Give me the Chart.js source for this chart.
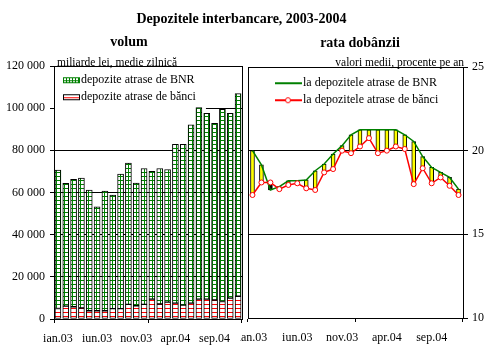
<!DOCTYPE html>
<html>
<head>
<meta charset="utf-8">
<script src="https://cdn.jsdelivr.net/npm/chart.js@4.4.1/dist/chart.umd.min.js"></script>
<style>
body { margin: 0; background: #fff; }
#pagina { position: relative; width: 495px; height: 354px; overflow: hidden; background: #fff;
  font-family: "Liberation Serif", "Times New Roman", serif; color: #000; }
#pagina canvas { position: absolute; top: 0; }
#graficVolum { left: 0; }
#graficRata { left: 240px; }
.text { position: absolute; white-space: nowrap; line-height: 14px; }
#titlu { left: 0; width: 483px; top: 12px; text-align: center; font-weight: bold; font-size: 14px; }
#titluVolum { left: 79px; width: 100px; top: 35px; text-align: center; font-weight: bold; font-size: 14px; }
#titluRata { left: 310px; width: 100px; top: 36px; text-align: center; font-weight: bold; font-size: 14px; }
#unitateVolum { left: 57px; top: 55px; font-size: 11.5px; }
#unitateRata { right: 31px; top: 55px; font-size: 11.5px; }
</style>
</head>
<body>
<div id="pagina">
  <canvas id="graficVolum" width="245" height="354"></canvas>
  <canvas id="graficRata" width="255" height="354"></canvas>
  <div class="text" id="titlu">Depozitele interbancare, 2003-2004</div>
  <div class="text" id="titluVolum">volum</div>
  <div class="text" id="titluRata">rata dobânzii</div>
  <div class="text" id="unitateVolum">miliarde lei, medie zilnică</div>
  <div class="text" id="unitateRata">valori medii, procente pe an</div>
</div>
<script>
// Datele (ian.03 - dec.04)
const luni = ["ian.03", "feb.03", "mar.03", "apr.03", "mai.03", "iun.03", "iul.03", "aug.03",
  "sep.03", "oct.03", "nov.03", "dec.03", "ian.04", "feb.04", "mar.04", "apr.04",
  "mai.04", "iun.04", "iul.04", "aug.04", "sep.04", "oct.04", "nov.04", "dec.04"];
const luniAfisate = ["ian.03", "iun.03", "nov.03", "apr.04", "sep.04"];

// volum, miliarde lei
const volumBanci = [5000, 6100, 5800, 5200, 3900, 3900, 3900, 4900, 4900, 6900, 6300, 6900,
  9400, 7100, 8000, 7500, 6600, 7500, 9400, 9400, 9000, 8300, 9900, 10800];
const volumBNR = [65600, 58200, 60400, 61600, 57300, 49300, 56800, 53900, 63800, 67000, 58200, 64500,
  60700, 64300, 62900, 75400, 76300, 84600, 90900, 88100, 83800, 91100, 87600, 96100];

// rata dobanzii, procente pe an
const rataBNR = [20.0, 19.15, 17.65, 17.85, 18.2, 18.2, 18.25, 18.8, 19.2, 19.8, 20.3, 20.95,
  21.25, 21.25, 21.25, 21.25, 21.25, 20.95, 20.55, 19.65, 19.0, 18.7, 18.4, 17.7];
const rataBanci = [17.35, 18.1, 18.1, 17.7, 17.95, 18.05, 17.75, 17.65, 18.7, 18.9, 20.0, 19.85,
  20.25, 20.75, 19.85, 20.0, 20.25, 20.1, 18.0, 18.95, 18.05, 18.4, 17.9, 17.35];

const VERDE = "#008000";
const ROSU = "#ff0000";

Chart.defaults.font.family = '"Liberation Serif", "Times New Roman", serif';
Chart.defaults.font.size = 12;
Chart.defaults.color = "#000";

const canvasVolum = document.querySelector("#graficVolum");
const canvasRata = document.querySelector("#graficRata");

// hasura pentru bare
function hasura(culoare, grila) {
    const c = document.createElement("canvas");
    c.width = 4; c.height = 4;
    const x = c.getContext("2d");
    x.fillStyle = "#fff"; x.fillRect(0, 0, 4, 4);
    x.fillStyle = culoare;
    x.fillRect(0, 0, 4, 1);
    if (grila) x.fillRect(0, 0, 1, 4);
    return canvasVolum.getContext("2d").createPattern(c, "repeat");
}

// mostrele din legenda stanga
function mostraVolum(grila) {
    const c = document.createElement("canvas");
    c.width = 26; c.height = 8;
    const x = c.getContext("2d");
    x.fillStyle = "#fff"; x.fillRect(9, 1, 17, 6);
    if (grila) {
        x.fillStyle = VERDE;
        for (let i = 12; i < 26; i += 3) x.fillRect(i, 1, 1, 6);
        x.fillRect(9, 4, 17, 1);
        x.strokeStyle = VERDE;
    } else {
        x.fillStyle = ROSU;
        x.fillRect(10, 4, 15, 1);
        x.strokeStyle = "#000";
    }
    x.lineWidth = 1;
    x.strokeRect(9.5, 1.5, 16, 5);
    return c;
}

// mostrele din legenda dreapta
function mostraRata(culoare, cerc) {
    const c = document.createElement("canvas");
    c.width = 54; c.height = 8;
    const x = c.getContext("2d");
    x.strokeStyle = culoare; x.lineWidth = 2;
    x.beginPath(); x.moveTo(27, 4); x.lineTo(54, 4); x.stroke();
    if (cerc) {
        x.lineWidth = 1;
        x.fillStyle = "#fff";
        x.beginPath(); x.arc(40, 4, 2.5, 0, Math.PI * 2); x.fill(); x.stroke();
    }
    return c;
}

function formatMii(v) {
    return String(v).replace(/\B(?=(\d{3})+(?!\d))/g, " ");
}

function liniiAn(ctx) {
    return (ctx.index === undefined || ctx.index % 12 === 0) ? "#000" : "rgba(0,0,0,0)";
}

// legenda pusa in interiorul zonei graficului
const legendaInGrafic = {
    id: "legendaInGrafic",
    afterLayout(chart) {
        const l = chart.legend, a = chart.chartArea;
        const h = l.bottom - l.top;
        l.top = a.top;
        l.bottom = a.top + h;
    }
};

const chenar = {
    id: "chenar",
    afterDatasetsDraw(chart) {
        const { ctx, chartArea: a } = chart;
        const x0 = Math.round(a.left) + 0.5, x1 = Math.round(a.right) + 0.5;
        const y0 = Math.round(a.top) + 0.5, y1 = Math.round(a.bottom) + 0.5;
        ctx.save();
        ctx.strokeStyle = "#000";
        ctx.lineWidth = 1;
        ctx.strokeRect(x0, y0, x1 - x0, y1 - y0);
        ctx.restore();
    }
};

const fundalLegenda = {
    id: "fundalLegenda",
    beforeDatasetsDraw(chart) {
        const cutii = chart.legend.legendHitBoxes;
        if (!cutii || !cutii.length) return;
        const a = chart.chartArea;
        const dreapta = Math.max(...cutii.map(b => b.left + b.width)) + 10;
        const jos = Math.max(...cutii.map(b => b.top + b.height)) + 8;
        const ctx = chart.ctx;
        ctx.save();
        ctx.fillStyle = "#fff";
        ctx.fillRect(a.left + 1, a.top + 1, dreapta - a.left - 1, jos - a.top - 1);
        ctx.restore();
        chart.legend.draw();
    }
};

const mostreVolum = [mostraVolum(false), mostraVolum(true)];
const mostreRata = [mostraRata(VERDE, false), mostraRata(ROSU, true)];

new Chart(canvasVolum, {
    type: "bar",
    data: {
        labels: luni,
        datasets: [
            {
                label: "depozite atrase de bănci",
                data: volumBanci,
                backgroundColor: hasura(ROSU, false),
                borderColor: "#000",
                borderWidth: 1,
                borderSkipped: false,
                barThickness: 6
            },
            {
                label: "depozite atrase de BNR",
                data: volumBNR,
                backgroundColor: hasura(VERDE, true),
                borderColor: "#000",
                borderWidth: 1,
                borderSkipped: false,
                barThickness: 6
            }
        ]
    },
    options: {
        responsive: false,
        animation: false,
        layout: { padding: { top: 66, right: 3, left: 0, bottom: 0 } },
        scales: {
            x: {
                stacked: true,
                offset: true,
                ticks: {
                    autoSkip: false, maxRotation: 0, padding: 9,
                    callback: (v, i) => luniAfisate.includes(luni[i]) ? luni[i] : ""
                },
                grid: { offset: true, drawOnChartArea: false, tickLength: 4, color: liniiAn },
                border: { color: "#000" },
                afterFit: s => { s.height = 35; s.paddingLeft = 0; s.paddingRight = 0; }
            },
            y: {
                stacked: true,
                min: 0,
                max: 120000,
                ticks: { stepSize: 20000, padding: 5, callback: v => formatMii(v) },
                grid: { color: "#000", tickLength: 4 },
                border: { color: "#000" },
                afterFit: s => { s.width = 54; }
            }
        },
        plugins: {
            tooltip: { enabled: false },
            legend: {
                position: "chartArea",
                align: "start",
                title: { display: true, text: "", font: { size: 1 }, padding: { top: 2, bottom: 0 } },
                labels: {
                    usePointStyle: true,
                    pointStyleWidth: 16,
                    padding: 5,
                    generateLabels: chart => Chart.defaults.plugins.legend.labels.generateLabels(chart)
                        .sort((a, b) => b.datasetIndex - a.datasetIndex)
                        .map(l => Object.assign(l, { pointStyle: mostreVolum[l.datasetIndex] }))
                }
            }
        }
    },
    plugins: [legendaInGrafic, fundalLegenda, chenar]
});

const diferente = rataBanci.map((v, i) => [v, rataBNR[i]]);

new Chart(canvasRata, {
    type: "bar",
    data: {
        labels: luni,
        datasets: [
            {
                type: "line",
                label: "la depozitele atrase de BNR",
                data: rataBNR,
                borderColor: VERDE,
                borderWidth: 1.5,
                pointRadius: 0,
                tension: 0,
                order: 1
            },
            {
                type: "line",
                label: "la depozitele atrase de bănci",
                data: rataBanci,
                borderColor: ROSU,
                borderWidth: 1.5,
                pointRadius: 2.5,
                pointBackgroundColor: "#fff",
                pointBorderColor: ROSU,
                pointBorderWidth: 1,
                tension: 0,
                order: 0
            },
            {
                type: "bar",
                label: "diferenta",
                data: diferente,
                backgroundColor: ctx => (ctx.raw && ctx.raw[0] > ctx.raw[1]) ? "#000" : "#ffff00",
                borderColor: "#000",
                borderWidth: 1,
                borderSkipped: false,
                barThickness: 4,
                order: 2
            }
        ]
    },
    options: {
        responsive: false,
        animation: false,
        layout: { padding: { top: 67, right: 0, left: 8, bottom: 0 } },
        scales: {
            x: {
                offset: true,
                ticks: {
                    autoSkip: false, maxRotation: 0, padding: 9,
                    callback: (v, i) => luniAfisate.includes(luni[i]) ? luni[i] : ""
                },
                grid: { offset: true, drawOnChartArea: false, tickLength: 4, color: liniiAn },
                border: { color: "#000" },
                afterFit: s => { s.height = 36; s.paddingLeft = 0; s.paddingRight = 0; }
            },
            y: {
                position: "right",
                min: 10,
                max: 25,
                ticks: { stepSize: 5, padding: 4 },
                grid: { color: "#000", tickLength: 5 },
                border: { color: "#000" },
                afterFit: s => { s.width = 32; }
            }
        },
        plugins: {
            tooltip: { enabled: false },
            legend: {
                position: "chartArea",
                align: "start",
                title: { display: true, text: "", font: { size: 1 }, padding: { top: 4, bottom: 0 } },
                labels: {
                    usePointStyle: true,
                    pointStyleWidth: 44,
                    padding: 5,
                    generateLabels: chart => Chart.defaults.plugins.legend.labels.generateLabels(chart)
                        .filter(l => l.datasetIndex < 2)
                        .sort((a, b) => a.datasetIndex - b.datasetIndex)
                        .map(l => Object.assign(l, { pointStyle: mostreRata[l.datasetIndex] }))
                }
            }
        }
    },
    plugins: [legendaInGrafic, chenar]
});
</script>
</body>
</html>
